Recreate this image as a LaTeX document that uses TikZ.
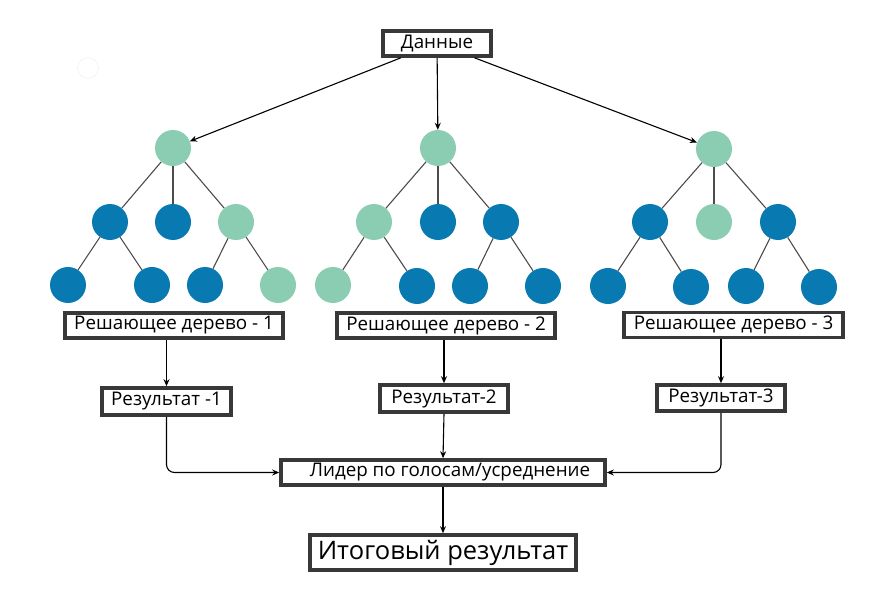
\documentclass[tikz,border=0pt]{standalone}
\usepackage{fontspec}
\setmainfont{Open Sans}
\usetikzlibrary{arrows.meta}

\definecolor{leafgreen}{HTML}{8ACDB2}
\definecolor{leafblue}{HTML}{0979B2}
\definecolor{boxgray}{HTML}{383838}

\begin{document}
\begin{tikzpicture}[x=1pt, y=-1pt,
		box/.style={draw=boxgray, line width=3.6pt, inner sep=0pt, font=\fontsize{18.8}{22}\selectfont},
		gnode/.style={circle, fill=leafgreen, minimum size=36pt, inner sep=0pt},
		bnode/.style={circle, fill=leafblue, minimum size=36pt, inner sep=0pt},
		edge/.style={draw=black!70, line width=1.1pt},
		arrow/.style={line width=1.1pt, -{Stealth[length=7pt, width=6pt]}}
	]

		\useasboundingbox (0,0) rectangle (894,591);

		% faint circle top left
		\node[circle, draw=black!8, minimum size=21pt, inner sep=0pt] (dot) at (88,68) {};

		% data
		\node[box, minimum width=108pt, minimum height=25pt] (data) at (437,43.5) {Данные};

		% tree 1
		\node[gnode] (a0) at (173,148) {};
		\node[bnode] (a1) at (110,222) {};
		\node[bnode] (a2) at (173,222) {};
		\node[gnode] (a3) at (236,222) {};
		\node[bnode] (a11) at (68,285) {};
		\node[bnode] (a12) at (152,285) {};
		\node[bnode] (a31) at (205,285) {};
		\node[gnode] (a32) at (278,285) {};

		% tree 2
		\node[gnode] (b0) at (438,148) {};
		\node[gnode] (b1) at (374,222) {};
		\node[bnode] (b2) at (438,222) {};
		\node[bnode] (b3) at (501,222) {};
		\node[gnode] (b11) at (333,285) {};
		\node[bnode] (b12) at (417,286) {};
		\node[bnode] (b31) at (470,286) {};
		\node[bnode] (b32) at (543,286) {};

		% tree 3
		\node[gnode] (c0) at (714,149) {};
		\node[bnode] (c1) at (650,222) {};
		\node[gnode] (c2) at (714,222) {};
		\node[bnode] (c3) at (778,222) {};
		\node[bnode] (c11) at (608,286) {};
		\node[bnode] (c12) at (691,287) {};
		\node[bnode] (c31) at (746,286) {};
		\node[bnode] (c32) at (819,287) {};

		\foreach \t in {a,b,c} {
			\draw[edge] (\t0) -- (\t1);
			\draw[edge] (\t0) -- (\t2);
			\draw[edge] (\t0) -- (\t3);
			\draw[edge] (\t1) -- (\t11);
			\draw[edge] (\t1) -- (\t12);
			\draw[edge] (\t3) -- (\t31);
			\draw[edge] (\t3) -- (\t32);
		}

		% trees and results
		\node[box, minimum width=218pt, minimum height=25pt] (tree1) at (174,325.5) {Решающее дерево - 1};
		\node[box, minimum width=218pt, minimum height=25pt] (tree2) at (446,325.5) {Решающее дерево - 2};
		\node[box, minimum width=219pt, minimum height=25pt] (tree3) at (733.5,325) {Решающее дерево - 3};

		\node[box, minimum width=129pt, minimum height=27pt] (res1) at (166.5,401.5) {Результат -1};
		\node[box, minimum width=128pt, minimum height=27pt] (res2) at (444,398.5) {Результат-2};
		\node[box, minimum width=128pt, minimum height=26pt] (res3) at (721,398) {Результат-3};

		\node[box, minimum width=324pt, minimum height=25pt] (vote) at (443,472.5) {\hspace{14pt}Лидер по голосам/усреднение};
		\node[box, minimum width=266pt, minimum height=35pt, font=\fontsize{25.5}{30}\selectfont] (final) at (443,552.5) {Итоговый результат};

		% connectors
		\draw[arrow] (data) -- (a0);
		\draw[arrow] (data) -- (b0);
		\draw[arrow] (data) -- (c0);

		\draw[arrow] (res1.north |- tree1.south) -- (res1.north);
		\draw[arrow] (res2.north |- tree2.south) -- (res2.north);
		\draw[arrow] (res3.north |- tree3.south) -- (res3.north);

		\draw[arrow, rounded corners=8pt] (res1.south) |- (vote.west);
		\draw[arrow] (res2.south) -- (vote.north);
		\draw[arrow, rounded corners=8pt] (res3.south) |- (vote.east);
		\draw[arrow] (vote.south) -- (final.north);

	\end{tikzpicture}
\end{document}
